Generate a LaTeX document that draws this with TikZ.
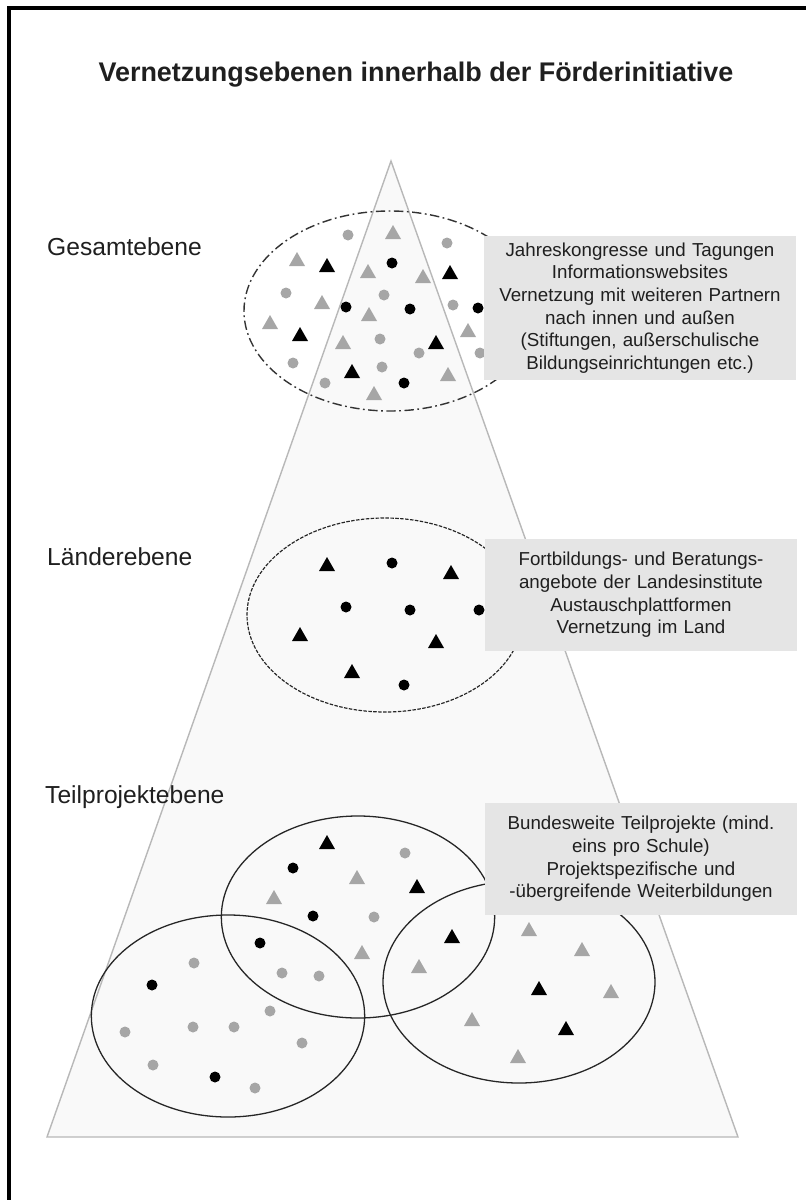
\documentclass[tikz,border=0pt]{standalone}
\usepackage{fontspec}
\setmainfont{Liberation Sans}
\usetikzlibrary{positioning}

\begin{document}
\begin{tikzpicture}[
    x=0.03cm, y=-0.03cm,
    every node/.style={font=\rmfamily, text=black!88},
    ptgray/.style={fill=black!35},
    ptblack/.style={fill=black},
    infobox/.style={fill=gray!20, inner sep=0pt, align=center,
        minimum width=9.36cm, text width=9.2cm,
        font=\fontsize{16}{19.4}\selectfont},
    levellabel/.style={anchor=west, inner sep=0pt, font=\fontsize{21}{25}\selectfont},
]
\useasboundingbox (0,0) rectangle (806,1200);

% === Frame ===
\draw[line width=2.6pt] (9,1200) -- (9,8) -- (806,8);

% === Title ===
\node[font=\fontsize{23}{27}\selectfont\bfseries] (title) at (416,75)
    {Vernetzungsebenen innerhalb der Förderinitiative};

% === Pyramid ===
\filldraw[fill=gray!5, draw=black!28, line width=1.2pt]
    (391,161) -- (738,1137) -- (47,1137) -- cycle;

% === Level labels ===
\node[levellabel] (gesamt) at (47,247) {Gesamtebene};
\node[levellabel] (laender) at (47,557) {Länderebene};
\node[levellabel] (teil) at (45,797) {Teilprojektebene};

% === Ellipses ===
% Gesamtebene (dash-dotted)
\draw[black!80, line width=1.2pt, dash pattern=on 8pt off 3pt on 1.5pt off 3pt]
    (390,311) ellipse [x radius=4.38cm, y radius=3.0cm];
% Laenderebene (dashed)
\draw[black!85, line width=1pt, dash pattern=on 3pt off 1.2pt]
    (385,615) ellipse [x radius=4.14cm, y radius=2.91cm];
% Teilprojektebene (three overlapping)
\draw[black!85, line width=1.1pt] (358,917) ellipse [x radius=4.1cm, y radius=3.03cm];
\draw[black!85, line width=1.1pt] (228,1016) ellipse [x radius=4.1cm, y radius=3.03cm];
\draw[black!85, line width=1.1pt] (519,982) ellipse [x radius=4.08cm, y radius=3.03cm];

% === Partners: circles ===
\foreach \x/\y in {348/235, 447/243, 286/293, 384/295, 453/305, 380/339,
    419/353, 480/353, 293/363, 382/367, 325/383,
    405/853, 374/917, 282/973, 319/976, 194/963, 270/1011, 125/1032,
    193/1027, 234/1027, 302/1043, 153/1065, 255/1088}
    \fill[ptgray] (\x,\y) circle[radius=0.165cm];
\foreach \x/\y in {392/263, 346/307, 410/309, 478/308, 404/383,
    392/563, 346/607, 410/610, 479/610, 404/685,
    293/868, 313/916, 260/943, 152/985, 215/1077}
    \fill[ptblack] (\x,\y) circle[radius=0.165cm];

% === Partners: triangles ===
\foreach \x/\y in {393/233, 297/260, 368/272, 423/277, 322/303, 369/315,
    270/323, 343/343, 468/331, 448/375, 374/394,
    357/878, 274/898, 362/953, 419/967, 529/930, 582/950, 611/992,
    472/1020, 518/1057}
    \fill[ptgray] (\x,\y) ++(0,-8) -- ++(8,14) -- ++(-16,0) -- cycle;
\foreach \x/\y in {327/266, 450/273, 300/335, 436/343, 352/372,
    327/565, 451/573, 300/635, 436/642, 352/672,
    327/843, 417/887, 452/937, 539/989, 566/1029}
    \fill[ptblack] (\x,\y) ++(0,-8) -- ++(8,14) -- ++(-16,0) -- cycle;

% === Info boxes ===
\node[infobox, minimum height=4.32cm] (boxgesamt) at (640,308)
    {Jahreskongresse und Tagungen\\ Informationswebsites\\
     Vernetzung mit weiteren Partnern\\ nach innen und außen\\
     (Stiftungen, außerschulische\\ Bildungseinrichtungen etc.)};
\node[infobox, minimum height=3.36cm] (boxlaender) at (641,595)
    {Fortbildungs- und Beratungs-\\ angebote der Landesinstitute\\
     Austauschplattformen\\ Vernetzung im Land};
\node[infobox, minimum height=3.36cm] (boxteil) at (641,859)
    {Bundesweite Teilprojekte (mind.\\ eins pro Schule)\\
     Projektspezifische und\\ -übergreifende Weiterbildungen};

\end{tikzpicture}
\end{document}
